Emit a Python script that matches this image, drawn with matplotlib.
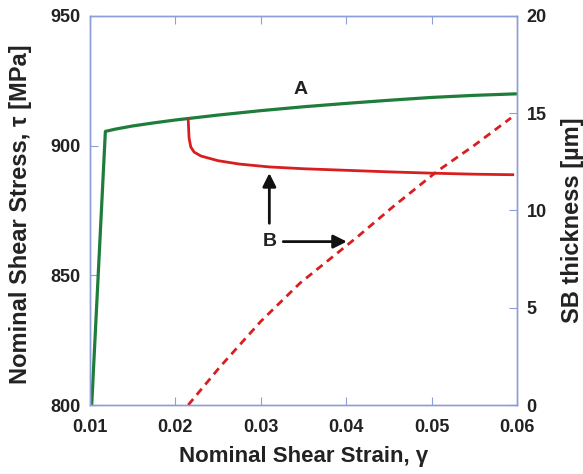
import matplotlib
matplotlib.use("Agg")
import matplotlib.pyplot as plt

plt.rcParams['font.family'] = ['Liberation Sans', 'DejaVu Sans']
plt.rcParams['font.weight'] = 'bold'

# datos
strain_A = [0.0102, 0.0118, 0.013, 0.015, 0.0175, 0.02, 0.025, 0.03, 0.035, 0.04, 0.045, 0.05, 0.055, 0.06]
stress_A = [800, 905.5, 906.4, 907.6, 908.8, 909.9, 911.8, 913.5, 915.0, 916.3, 917.5, 918.6, 919.4, 920.0]

strain_B = [0.0215, 0.0216, 0.0218, 0.0222, 0.023, 0.025, 0.0275, 0.031, 0.035, 0.04, 0.045, 0.05, 0.055, 0.0595]
stress_B = [910, 903, 899.5, 897.5, 896, 894.2, 892.9, 891.8, 891.1, 890.5, 889.9, 889.4, 889.0, 888.8]

strain_sb = [0.0215, 0.0252, 0.03, 0.0346, 0.0413, 0.0455, 0.0506, 0.055, 0.0593]
sb_thick = [0, 1.95, 4.3, 6.27, 8.64, 10.2, 12.0, 13.35, 14.76]

x_ticks = [0.01, 0.02, 0.03, 0.04, 0.05, 0.06]
x_labels = ["0.01", "0.02", "0.03", "0.04", "0.05", "0.06"]
y1_ticks = [800, 850, 900, 950]
y2_ticks = [0, 5, 10, 15, 20]

spine_col = '#8e9ed8'
txt_col = '#222222'

fig = plt.figure(figsize=(5.83, 4.74), dpi=100)
ax = fig.add_axes([90/583, 1-405/474, 427/583, 389/474])
ax2 = ax.twinx()

ax.plot(strain_A, stress_A, color='#1e7d3a', lw=2.3, solid_capstyle='butt')
ax.plot(strain_B, stress_B, color='#d81e1e', lw=2.0)
ax2.plot(strain_sb, sb_thick, color='#d81e1e', lw=2.0, dashes=(2.8, 2.0))

ax.set_xlim(0.01, 0.06)
ax.set_ylim(800, 950)
ax2.set_ylim(0, 20)
ax.set_xticks(x_ticks)
ax.set_xticklabels(x_labels)
ax.set_yticks(y1_ticks)
ax2.set_yticks(y2_ticks)

for a in (ax, ax2):
    for s in a.spines.values():
        s.set_color(spine_col)
        s.set_linewidth(1.0)
ax.tick_params(axis='x', direction='in', top=True, length=6, color=spine_col,
               labelsize=13, labelcolor=txt_col, pad=10)
ax.tick_params(axis='y', direction='in', length=6, color=spine_col,
               labelsize=13, labelcolor=txt_col, pad=7)
ax2.tick_params(axis='y', direction='in', length=6, color=spine_col,
                labelsize=13, labelcolor=txt_col, pad=7)

ax.set_xlabel("Nominal Shear Strain, \u03b3", fontsize=16, fontweight='bold', color=txt_col)
ax.set_ylabel("Nominal Shear Stress, \u03c4 [MPa]", fontsize=17, fontweight='bold', color=txt_col)
ax2.set_ylabel("SB thickness [\u00b5m]", fontsize=17, fontweight='bold', color=txt_col)
ax.xaxis.set_label_coords(0.5, -0.105)
ax.yaxis.set_label_coords(-0.135, 0.49)
ax2.yaxis.set_label_coords(1.104, 0.475)

ax.text(0.0346, 918.3, "A", fontsize=14, fontweight='bold', color=txt_col, ha='center', va='bottom')
ax.text(0.031, 863, "B", fontsize=14, fontweight='bold', color=txt_col, ha='center', va='center')
ax.annotate("", xy=(0.031, 890.5), xytext=(0.031, 869),
            arrowprops=dict(arrowstyle='-|>', color='#111111', lw=2, mutation_scale=20))
ax.annotate("", xy=(0.0404, 863), xytext=(0.0323, 863),
            arrowprops=dict(arrowstyle='-|>', color='#111111', lw=2, mutation_scale=20))

fig.savefig("out.png", dpi=100)
